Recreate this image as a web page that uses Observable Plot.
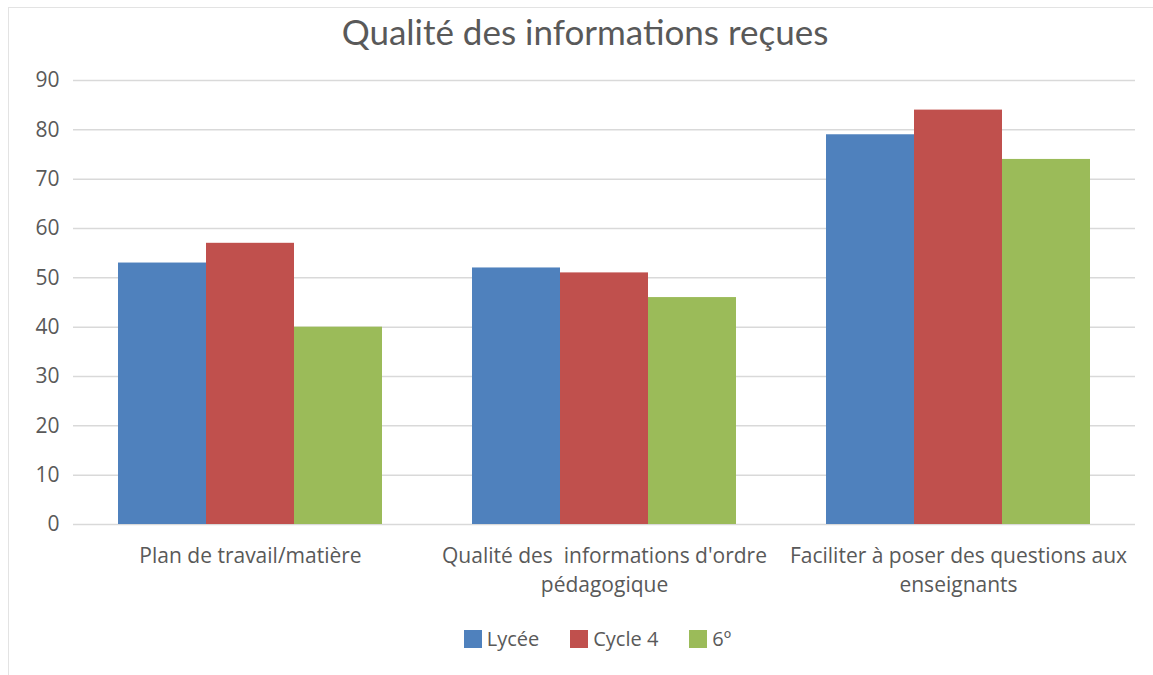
<!DOCTYPE html>
<html>
<head>
<meta charset="utf-8">
<script src="https://cdn.jsdelivr.net/npm/d3@7"></script>
<script src="https://cdn.jsdelivr.net/npm/@observablehq/plot@0.6"></script>
<style>
  html, body { margin: 0; padding: 0; background: #fff; }
  #wrap { position: relative; width: 1153px; height: 675px; overflow: hidden; }
  #frame { position: absolute; left: 8px; top: 7px; width: 1160px; height: 690px; border: 1.5px solid #e3e3e3; box-sizing: border-box; }
  #title { position: absolute; left: 0; width: 1170px; top: 10px; text-align: center; font-family: Lato, "Open Sans", sans-serif; font-size: 35px; color: #595959; }
  #chart { position: absolute; left: 0; top: 60px; }
  #legend { position: absolute; left: 0; width: 1195px; top: 625px; display: flex; justify-content: center; gap: 31px; font-family: "Open Sans", sans-serif; font-size: 20px; color: #595959; }
  .item { display: flex; align-items: center; }
  .sw { width: 18px; height: 18px; margin-right: 5px; }
</style>
</head>
<body>
<div id="wrap">
  <div id="frame"></div>
  <div id="title"></div>
  <div id="chart"></div>
  <div id="legend"></div>
</div>
<script>
const chartTitle = "Qualité des informations reçues";
const categories = [
  "Plan de travail/matière",
  "Qualité des \u00a0informations d'ordre\npédagogique",
  "Faciliter à poser des questions aux\nenseignants"
];
const seriesNames = ["Lycée", "Cycle 4", "6º"];
const seriesColors = ["#4F81BD", "#C0504D", "#9BBB59"];
const lycee = [53, 52, 79];
const cycle4 = [57, 51, 84];
const sixieme = [40, 46, 74];
const yTicks = [0, 10, 20, 30, 40, 50, 60, 70, 80, 90];

const seriesValues = [lycee, cycle4, sixieme];
const data = [];
categories.forEach((c, i) => {
  seriesNames.forEach((s, j) => {
    data.push({group: c, series: s, value: seriesValues[j][i]});
  });
});

document.getElementById("title").textContent = chartTitle;

const chart = Plot.plot({
  width: 1153,
  height: 540,
  marginTop: 20,
  marginBottom: 76,
  marginLeft: 72,
  marginRight: 18,
  style: {fontFamily: "'Open Sans', sans-serif", fontSize: "20px", color: "#595959", background: "transparent"},
  fx: {domain: categories, padding: 0, label: null},
  x: {domain: seriesNames, paddingInner: 0, paddingOuter: 0.5, axis: null},
  y: {domain: [0, 90], label: null},
  color: {domain: seriesNames, range: seriesColors},
  marks: [
    Plot.gridY(yTicks, {stroke: "#d9d9d9", strokeOpacity: 1, strokeWidth: 1.5}),
    Plot.axisY(yTicks, {tickSize: 0, tickPadding: 14, fontSize: 21, label: null, fill: "#595959"}),
    Plot.axisFx({anchor: "bottom", tickSize: 0, tickPadding: 19, lineHeight: 1.34, fontSize: 21, label: null, fill: "#595959"}),
    Plot.barY(data, {fx: "group", x: "series", y: "value", fill: "series"})
  ]
});
document.getElementById("chart").appendChild(chart);

const legend = document.getElementById("legend");
seriesNames.forEach((s, i) => {
  const item = document.createElement("div");
  item.className = "item";
  const sw = document.createElement("div");
  sw.className = "sw";
  sw.style.background = seriesColors[i];
  const t = document.createElement("span");
  t.textContent = s;
  item.appendChild(sw);
  item.appendChild(t);
  legend.appendChild(item);
});
</script>
</body>
</html>
